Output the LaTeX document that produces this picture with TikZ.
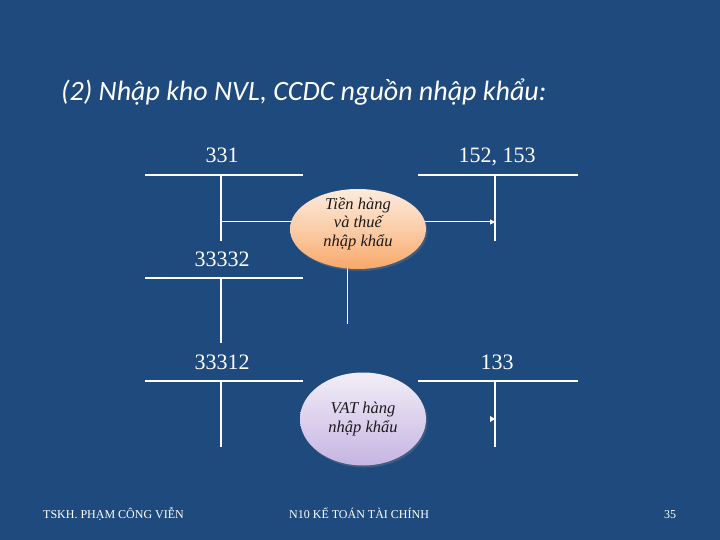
\documentclass[tikz,border=0pt]{standalone}
\usepackage{fontspec}
\setmainfont{Liberation Serif}
\newfontfamily\titlefont{Carlito}
\usetikzlibrary{arrows.meta,shadows,shapes.geometric}
\definecolor{bg}{HTML}{1F4A7E}
\definecolor{orA}{HTML}{FDEBDD}
\definecolor{orB}{HTML}{F8A868}
\definecolor{lvA}{HTML}{F2EEF8}
\definecolor{lvB}{HTML}{C6B4E2}
\definecolor{ink}{HTML}{1A1A1A}
\tikzset{
  tline/.style={draw=white,line width=2.2pt},
  thin/.style={draw=white,line width=1pt},
  acct/.style={text=white,font=\fontsize{22}{24}\selectfont,anchor=base},
  foot/.style={text=white,font=\fontsize{12}{13}\selectfont,anchor=base west,inner sep=0pt},
  bubble/.style={ellipse,inner sep=0pt,align=center},
  btext/.style={anchor=base,text=ink,font=\fontsize{16.5}{18}\selectfont\itshape,inner sep=0pt},
}
\begin{document}
\begin{tikzpicture}[x=1pt,y=-1pt]
\fill[bg] (0,0) rectangle (720,540);
\useasboundingbox (0,0) rectangle (720,540);
% title
\node[anchor=base west,inner sep=0pt,text=white,font=\titlefont\itshape\fontsize{28}{30}\selectfont] (title) at (61,101) {(2) Nhập kho NVL, CCDC nguồn nhập khẩu:};
% accounts labels
\node[acct] (l331) at (222,163) {331};
\node[acct] (l152) at (497,163) {152, 153};
\node[acct] (l33332) at (222,266) {33332};
\node[acct] (l33312) at (222,369) {33312};
\node[acct] (l133) at (497,369) {133};
% T accounts
\coordinate (a1L) at (145,175); \coordinate (a1R) at (303,175);
\coordinate (a1T) at (221,175); \coordinate (a1B) at (221,241);
\coordinate (a2L) at (418,175); \coordinate (a2R) at (578,175);
\coordinate (a2T) at (495,175); \coordinate (a2B) at (495,241);
\coordinate (a3L) at (145,278); \coordinate (a3R) at (303,278);
\coordinate (a3T) at (221,278); \coordinate (a3B) at (221,343);
\coordinate (a4L) at (145,381); \coordinate (a4R) at (303,381);
\coordinate (a4T) at (221,381); \coordinate (a4B) at (221,447);
\coordinate (a5L) at (418,381); \coordinate (a5R) at (578,381);
\coordinate (a5T) at (495,381); \coordinate (a5B) at (495,447);
\foreach \i in {1,...,5}{
  \draw[tline] (a\i L) -- (a\i R);
  \draw[tline] (a\i T) -- (a\i B);
}
% flow lines
\coordinate (f1s) at (221,222);
\coordinate (f1e) at (495,222);
\draw[thin,-{Triangle[length=5pt,width=5pt]}] (f1s) -- (f1e);
\coordinate (vend) at (347,324);
\coordinate (vtop) at (347,262);
\draw[thin] (vtop) -- (vend);
% bubbles
\node[bubble,minimum width=136pt,minimum height=80pt,
  top color=orA,bottom color=orB,middle color=orA!55!orB,
  drop shadow={shadow xshift=1.5pt,shadow yshift=-2pt,opacity=0.35}] (b1) at (358,229) {};
\node[btext] (b1a) at (358,210) {Tiền hàng};
\node[btext] (b1b) at (358,228) {và thuế};
\node[btext] (b1c) at (358,246) {nhập khẩu};
\node[bubble,minimum width=126pt,minimum height=93pt,
  top color=lvA,bottom color=lvB,middle color=lvA!50!lvB,
  drop shadow={shadow xshift=1.5pt,shadow yshift=-2pt,opacity=0.35}] (b2) at (363,419) {};
\node[btext] (b2a) at (363,413) {VAT hàng};
\node[btext] (b2b) at (363,432) {nhập khẩu};
% small arrowhead on 133
\coordinate (tip) at (495,419);
\fill[white] (tip) -- ++(-5,-3) -- ++(0,6) -- cycle;
% footer
\node[foot] (f1) at (43,518) {TSKH. PHẠM CÔNG VIỄN};
\node[foot] (f2) at (289,518) {N10 KẾ TOÁN TÀI CHÍNH};
\node[foot] (f3) at (664,518) {35};
\end{tikzpicture}
\end{document}
